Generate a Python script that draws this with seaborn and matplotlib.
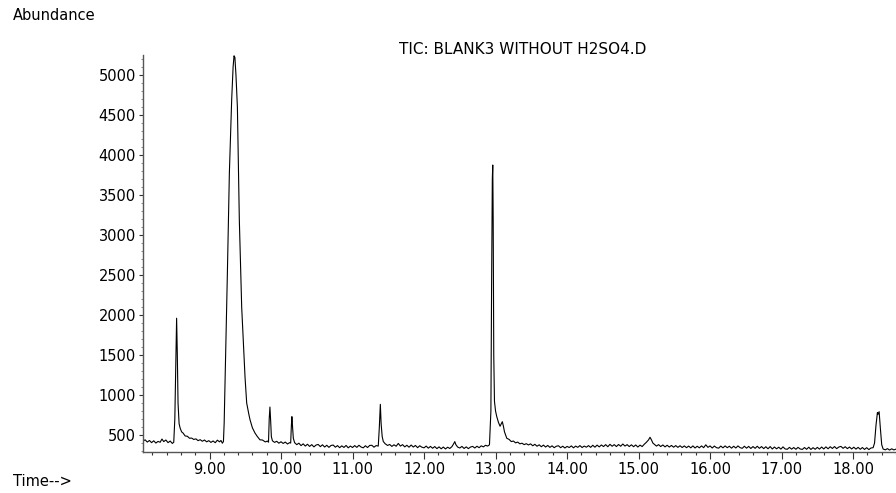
import numpy as np
import pandas as pd
import matplotlib
matplotlib.use("Agg")
import matplotlib.pyplot as plt
from matplotlib.ticker import MultipleLocator, FixedLocator
import seaborn as sns

# Total ion chromatogram: retention time (min) and abundance (counts)
time_min = [
    8.07, 8.10, 8.13, 8.16, 8.19, 8.22, 8.25, 8.28, 8.31, 8.335, 8.36, 8.39, 8.42, 8.45, 8.48, 8.50,
    8.515, 8.53, 8.54, 8.55, 8.56, 8.575, 8.59, 8.61, 8.63, 8.66, 8.69, 8.72, 8.75, 8.78, 8.81, 8.84,
    8.87, 8.90, 8.93, 8.96, 8.99, 9.02, 9.05, 9.08, 9.11, 9.14, 9.16, 9.18, 9.195,
    9.205, 9.22, 9.25, 9.278, 9.31, 9.33, 9.343, 9.355, 9.37, 9.39, 9.417, 9.45, 9.497, 9.52, 9.55,
    9.567, 9.60, 9.636, 9.67, 9.706, 9.74, 9.78, 9.81, 9.825,
    9.835, 9.845, 9.855, 9.865, 9.88, 9.91, 9.94, 9.97, 10.00, 10.03, 10.06, 10.09, 10.12, 10.135,
    10.145, 10.152, 10.16, 10.172, 10.19, 10.22, 10.25, 10.28, 10.31, 10.34, 10.37, 10.40, 10.43,
    10.46, 10.49, 10.52, 10.55, 10.58, 10.61, 10.64, 10.67, 10.70, 10.73, 10.76, 10.79, 10.82, 10.85,
    10.88, 10.91, 10.94, 10.97, 11.00, 11.03, 11.06, 11.09, 11.12, 11.15, 11.18, 11.21, 11.24, 11.27,
    11.30, 11.33, 11.36,
    11.375, 11.389, 11.40, 11.415, 11.43, 11.455, 11.49, 11.52, 11.55, 11.58, 11.61, 11.64, 11.67,
    11.70, 11.73, 11.76, 11.79, 11.82, 11.85, 11.88, 11.91, 11.94, 11.97, 12.00, 12.03, 12.06, 12.09,
    12.12, 12.15, 12.18, 12.21, 12.24, 12.27, 12.30, 12.33, 12.36, 12.39,
    12.42, 12.43, 12.445, 12.47, 12.50, 12.53, 12.56, 12.59, 12.62, 12.65, 12.68, 12.71, 12.74, 12.77,
    12.80, 12.83, 12.86, 12.89, 12.915,
    12.935, 12.945, 12.955, 12.961, 12.967, 12.975, 12.985, 13.00, 13.017, 13.04, 13.063, 13.08,
    13.095, 13.11, 13.125, 13.157, 13.19, 13.22, 13.25, 13.28, 13.31, 13.34, 13.37, 13.40, 13.43,
    13.46, 13.49, 13.52, 13.55, 13.58, 13.61, 13.64, 13.67, 13.70, 13.73, 13.76, 13.79, 13.82, 13.85,
    13.88, 13.91, 13.94, 13.97, 14.00, 14.03, 14.06, 14.09, 14.12, 14.15, 14.18, 14.21, 14.24, 14.27,
    14.30, 14.33, 14.36, 14.39, 14.42, 14.45, 14.48, 14.51, 14.54, 14.57, 14.60, 14.63, 14.66, 14.69,
    14.72, 14.75, 14.78, 14.81, 14.84, 14.87, 14.90, 14.93, 14.96, 14.99, 15.02, 15.05, 15.08,
    15.11, 15.14, 15.16, 15.18, 15.20, 15.22, 15.25, 15.28, 15.31, 15.34, 15.37, 15.40, 15.43, 15.46,
    15.49, 15.52, 15.55, 15.58, 15.61, 15.64, 15.67, 15.70, 15.73, 15.76, 15.79, 15.82, 15.85, 15.88,
    15.91, 15.94, 15.97, 16.00, 16.03, 16.06, 16.09, 16.12, 16.15, 16.18, 16.21, 16.24, 16.27, 16.30,
    16.33, 16.36, 16.39, 16.42, 16.45, 16.48, 16.51, 16.54, 16.57, 16.60, 16.63, 16.66, 16.69, 16.72,
    16.75, 16.78, 16.81, 16.84, 16.87, 16.90, 16.93, 16.96, 16.99, 17.02, 17.05, 17.08, 17.11, 17.14,
    17.17, 17.20, 17.23, 17.26, 17.29, 17.32, 17.35, 17.38, 17.41, 17.44, 17.47, 17.50, 17.53, 17.56,
    17.59, 17.62, 17.65, 17.68, 17.71, 17.74, 17.77, 17.80, 17.83, 17.86, 17.89, 17.92, 17.95, 17.98,
    18.01, 18.04, 18.07, 18.10, 18.13, 18.16, 18.19, 18.22, 18.25, 18.28,
    18.30, 18.32, 18.34, 18.35, 18.364, 18.38, 18.40, 18.42, 18.45, 18.48, 18.51, 18.54, 18.57, 18.60,
]

abundance = [
    425, 440, 412, 432, 405, 428, 400, 420, 410, 450, 418, 438, 405, 425, 395, 410,
    700, 1500, 1960, 1500, 900, 640, 585, 540, 525, 488, 485, 460, 462, 445, 452, 430,
    442, 422, 438, 415, 430, 408, 426, 404, 436, 415, 432, 398, 420,
    650, 1275, 2525, 3780, 4690, 5100, 5240, 5220, 5000, 4600, 3190, 2100, 1220, 900, 760,
    690, 590, 525, 480, 440, 438, 414, 425, 410,
    700, 850, 680, 480, 428, 408, 422, 398, 416, 395, 412, 388, 405, 400,
    620, 730, 620, 460, 405, 380, 398, 368, 390, 362, 385, 358, 380,
    352, 375, 382, 355, 378, 350, 372, 346, 370, 375, 348, 368, 342, 365,
    345, 370, 340, 362, 344, 368, 346, 372, 350, 340, 366, 344, 370, 372,
    348, 368, 362,
    600, 884, 640, 480, 420, 392, 370, 382, 358, 378, 360, 395, 362,
    380, 352, 372, 348, 375, 350, 370, 342, 366, 348, 340, 362, 336, 358,
    335, 356, 330, 352, 328, 350, 326, 348, 332, 355,
    400, 418, 380, 350, 338, 358, 332, 352, 330, 350, 358, 338, 360, 342,
    365, 352, 372, 362, 378,
    800, 2400, 3700, 3875, 3200, 1500, 920, 800, 730, 660, 610, 640,
    667, 610, 540, 460, 445, 418, 425, 402, 412, 390, 398, 380, 392,
    376, 390, 366, 384, 360, 378, 354, 374, 350, 370, 346, 365, 342, 360,
    366, 342, 360, 338, 358, 344, 364, 340, 362, 346, 368, 344, 362, 348,
    368, 346, 372, 348, 374, 352, 376, 356, 380, 354, 384, 360, 380, 356,
    382, 360, 388, 362, 380, 356, 378, 354, 376, 350, 374, 356, 385,
    410, 440, 472, 440, 400, 385, 362, 380, 356, 376, 352, 372, 350, 370,
    348, 368, 346, 366, 344, 364, 342, 362, 340, 364, 338, 360, 340, 364,
    342, 378, 346, 364, 338, 362, 342, 336, 362, 340, 364, 342, 360, 336,
    360, 338, 364, 342, 334, 360, 336, 358, 332, 356, 334, 360, 334, 356,
    330, 354, 328, 356, 326, 350, 328, 348, 324, 352, 326, 322, 346, 324,
    344, 322, 346, 326, 320, 344, 322, 348, 320, 342, 322, 346, 324, 350,
    326, 352, 328, 354, 332, 356, 330, 350, 358, 334, 354, 330, 350, 326,
    348, 324, 346, 322, 344, 320, 342, 318, 338, 342,
    400, 620, 780, 760, 792, 600, 380, 325, 315, 330, 312, 328, 314, 324,
]

x_tick_values = [9, 10, 11, 12, 13, 14, 15, 16, 17, 18]
x_tick_labels = ["9.00", "10.00", "11.00", "12.00", "13.00", "14.00", "15.00", "16.00", "17.00", "18.00"]
y_tick_values = [500, 1000, 1500, 2000, 2500, 3000, 3500, 4000, 4500, 5000]

df = pd.DataFrame({"time": time_min, "abundance": abundance})

sns.set_theme(style="white")
plt.rcParams["font.family"] = ["DejaVu Sans"]

fig = plt.figure(figsize=(8.96, 4.93), dpi=100)
ax = fig.add_axes([143 / 896, 41 / 493, 753 / 896, 397 / 493])

sns.lineplot(data=df, x="time", y="abundance", ax=ax, color="black",
             linewidth=0.8, estimator=None, sort=False)

ax.set_xlim(8.07, 18.60)
ax.set_ylim(288, 5250)

for side in ("top", "right"):
    ax.spines[side].set_visible(False)
for side in ("left", "bottom"):
    ax.spines[side].set_color("#555555")
    ax.spines[side].set_linewidth(1.0)

ax.xaxis.set_major_locator(FixedLocator(x_tick_values))
ax.set_xticklabels(x_tick_labels)
ax.xaxis.set_minor_locator(MultipleLocator(0.2))
ax.yaxis.set_major_locator(FixedLocator(y_tick_values))
ax.yaxis.set_minor_locator(MultipleLocator(100))

ax.tick_params(axis="x", which="major", direction="out", length=5, width=0.8,
               color="#333333", labelsize=10.5, labelcolor="black", pad=2, bottom=True)
ax.tick_params(axis="x", which="minor", direction="out", length=2.5, width=0.8,
               color="#333333", bottom=True)
ax.tick_params(axis="y", which="major", direction="out", length=3, width=0.8,
               color="#333333", labelsize=10.5, labelcolor="black", pad=2, left=True)
ax.tick_params(axis="y", which="minor", direction="out", length=1.5, width=0.6,
               color="#777777", left=True)

ax.set_xlabel("")
ax.set_ylabel("")

fig.text(523 / 896, 1 - 50 / 493, "TIC: BLANK3 WITHOUT H2SO4.D", ha="center", va="center",
         fontsize=11, color="black")
fig.text(13 / 896, 1 - 15 / 493, "Abundance", ha="left", va="center", fontsize=10.5, color="black")
fig.text(13 / 896, 1 - 481 / 493, "Time-->", ha="left", va="center", fontsize=10.5, color="black")

fig.savefig("out.png", dpi=100, facecolor="white")
